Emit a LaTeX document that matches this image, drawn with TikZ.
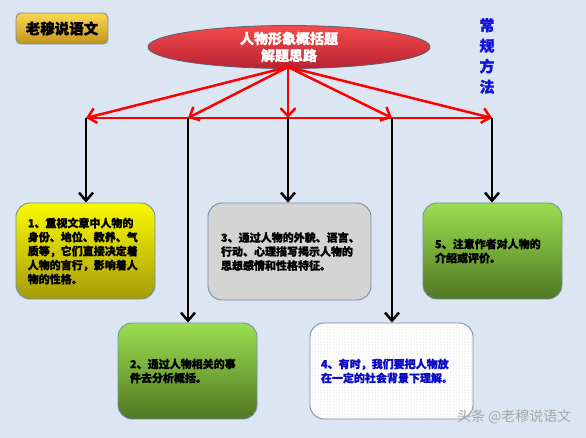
\documentclass[tikz,border=0pt]{standalone}
\usepackage{fontspec}
\newfontfamily\cjk{Noto Sans CJK SC}[BoldFeatures={FakeBold=1.2}]
\usetikzlibrary{shapes.geometric,arrows.meta,patterns}
\definecolor{bg}{RGB}{220,230,242}
\definecolor{bordc}{RGB}{120,140,165}
\definecolor{ytop}{RGB}{250,250,0}
\definecolor{ybot}{RGB}{165,155,10}
\definecolor{gtop}{RGB}{155,222,80}
\definecolor{gbot}{RGB}{80,120,35}
\definecolor{grayfill}{RGB}{212,212,212}
\definecolor{etop}{RGB}{245,75,75}
\definecolor{ebot}{RGB}{185,35,50}
\definecolor{btop}{RGB}{250,215,80}
\definecolor{bbot}{RGB}{195,150,30}
\definecolor{methblue}{RGB}{20,20,215}
\definecolor{txtblue}{RGB}{10,10,200}
\tikzset{
  box/.style={rounded corners=14pt, draw=bordc, line width=0.9pt, inner sep=0pt, align=left},
  yellowbox/.style={box, top color=ytop, bottom color=ybot},
  greenbox/.style={box, top color=gtop, bottom color=gbot},
  graybox/.style={box, fill=grayfill},
  dotbox/.style={box, fill=white, postaction={pattern=dots, pattern color=gray!45}},
  redarrow/.style={draw=red, line width=2.5pt, -{Straight Barb[length=8pt,width=15pt,line width=2.5pt]}},
  redline/.style={draw=red, line width=2.5pt},
  blackarrow/.style={draw=black, line width=2.5pt, -{Straight Barb[length=8pt,width=14pt,line width=2.5pt]}},
}
\begin{document}
\begin{tikzpicture}[x=1pt,y=-1pt, font=\cjk\bfseries\fontsize{11}{14}\selectfont]
\fill[bg] (0,0) rectangle (586,438);
\useasboundingbox (0,0) rectangle (586,438);

% badge
\node[rounded corners=5pt, draw=bordc, line width=0.9pt, top color=btop, bottom color=bbot,
  minimum width=92pt, minimum height=31pt, inner sep=0pt,
  font=\cjk\bfseries\fontsize{14.5}{16}\selectfont] (badge) at (62,28.5) {老穆说语文};

% ellipse
\node[ellipse, draw=bordc!70!black, line width=0.8pt, top color=etop, bottom color=ebot,
  minimum width=282pt, minimum height=38pt, inner sep=0pt, align=center, text=white,
  font=\cjk\bfseries\fontsize{14}{17}\selectfont] (title) at (289,47) {人物形象概括题\\解题思路};

% side label
\node[text=methblue, align=center, font=\cjk\bfseries\fontsize{15}{20.5}\selectfont] (meth) at (487,56) {常\\规\\方\\法};

% junctions
\coordinate (j1) at (86,118);
\coordinate (j2) at (188,118);
\coordinate (j3) at (288,118);
\coordinate (j4) at (392,118);
\coordinate (j5) at (492,118);
\coordinate (src) at (288,67);

% boxes
\node[yellowbox, minimum width=139pt, minimum height=96pt, text width=115.5pt] (b1) at (85.5,251)
  {1、重视文章中人物的\\身份、地位、教养、气\\质等，它们直接决定着\\人物的言行，影响着人\\物的性格。};
\node[greenbox, minimum width=139pt, minimum height=96pt, text width=115pt] (b2) at (187.5,371)
  {2、通过人物相关的事\\件去分析概括。};
\node[graybox, minimum width=163pt, minimum height=97pt, text width=137pt] (b3) at (289.5,251.5)
  {3、通过人物的外貌、语言、\\行动、心理描写揭示人物的\\思想感情和性格特征。};
\node[dotbox, minimum width=163pt, minimum height=96pt, text width=141pt, text=txtblue] (b4) at (391.5,371)
  {4、有时，我们要把人物放\\在一定的社会背景下理解。};
\node[greenbox, minimum width=139pt, minimum height=96pt, text width=115pt] (b5) at (492.5,251)
  {5、注意作者对人物的\\介绍或评价。};

% connectors
\draw[redline] (j1) -- (j5);
\foreach \j in {j1,j2,j3,j4,j5} {
  \draw[redarrow] (src) -- (\j);
}
\draw[blackarrow] (j1) -- (j1 |- b1.north);
\draw[blackarrow] (j2) -- (j2 |- b2.north);
\draw[blackarrow] (j3) -- (j3 |- b3.north);
\draw[blackarrow] (j4) -- (j4 |- b4.north);
\draw[blackarrow] (j5) -- (j5 |- b5.north);

% watermark
\node[text=gray!70, font=\cjk\fontsize{14}{15}\selectfont, anchor=east] (wm) at (575,417) {头条 @老穆说语文};
\end{tikzpicture}
\end{document}
